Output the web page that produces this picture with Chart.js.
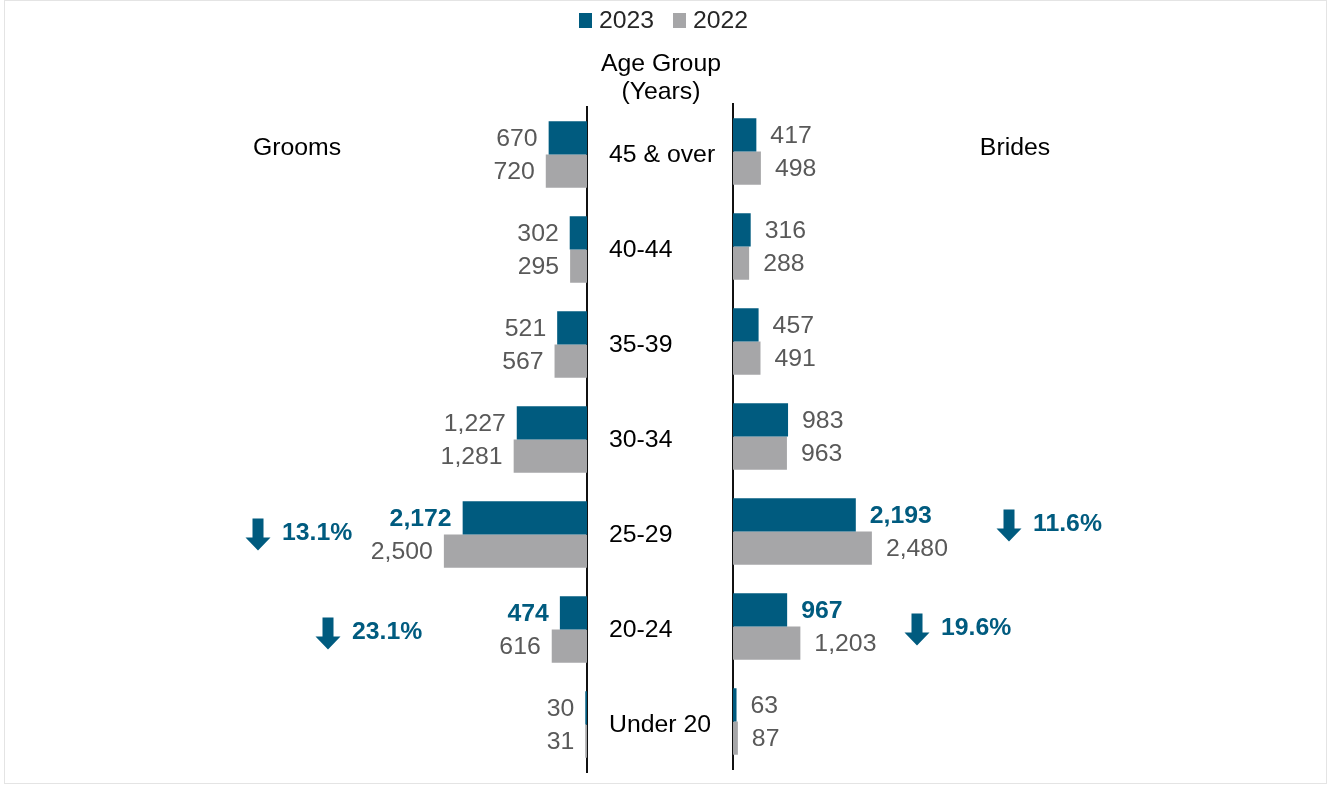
<!DOCTYPE html>
<html>
<head>
<meta charset="utf-8">
<script src="https://cdn.jsdelivr.net/npm/chart.js@4.4.0/dist/chart.umd.min.js"></script>
<style>
    html, body { margin: 0; padding: 0; background: #fff; }
    #wrap { position: relative; width: 1330px; height: 785px; overflow: hidden; }
    #frame { position: absolute; left: 4px; top: 0; width: 1323px; height: 784px; border: 1px solid #e4e4e4; box-sizing: border-box; }
    canvas { position: absolute; left: 0; top: 0; }
</style>
</head>
<body>
<div id="wrap">
    <div id="frame"></div>
    <canvas id="grooms" width="1330" height="785"></canvas>
    <canvas id="brides" width="1330" height="785"></canvas>
</div>
<script>
const ageGroups = ['45 & over', '40-44', '35-39', '30-34', '25-29', '20-24', 'Under 20']
const grooms2023 = [670, 302, 521, 1227, 2172, 474, 30]
const grooms2022 = [720, 295, 567, 1281, 2500, 616, 31]
const brides2023 = [417, 316, 457, 983, 2193, 967, 63]
const brides2022 = [498, 288, 491, 963, 2480, 1203, 87]
const groomsChange = [null, null, null, null, '13.1%', '23.1%', null]
const bridesChange = [null, null, null, null, '11.6%', '19.6%', null]

const BLUE = '#005b7f'
const GREY = '#a6a6a8'
const LABEL = '#595959'
const FONT = '"Liberation Sans", Arial, sans-serif'
const SIZE = '24.8px '

// where the arrow notes sit (layout only)
const groomsNotes = { x: [0, 0, 0, 0, 258, 328, 0], dy: [0, 0, 0, 0, -2, 2, 0] }
const bridesNotes = { x: [0, 0, 0, 0, 1009, 917, 0], dy: [0, 0, 0, 0, -8, 1, 0] }

function drawArrow(ctx, cx, cy) {
    const h = 32, headW = 25, shaftW = 11, headH = 13
    const top = cy - h / 2
    ctx.beginPath()
    ctx.moveTo(cx - shaftW / 2, top)
    ctx.lineTo(cx + shaftW / 2, top)
    ctx.lineTo(cx + shaftW / 2, top + h - headH)
    ctx.lineTo(cx + headW / 2, top + h - headH)
    ctx.lineTo(cx, top + h)
    ctx.lineTo(cx - headW / 2, top + h - headH)
    ctx.lineTo(cx - shaftW / 2, top + h - headH)
    ctx.closePath()
    ctx.fill()
}

const valueLabels = {
    id: 'valueLabels',
    afterDatasetsDraw(chart, args, opts) {
        const ctx = chart.ctx
        ctx.save()
        ctx.textBaseline = 'middle'
        chart.data.datasets.forEach((ds, di) => {
            chart.getDatasetMeta(di).data.forEach((bar, i) => {
                const bold = di === 0 && opts.changes[i]
                ctx.font = (bold ? 'bold ' : '') + SIZE + FONT
                ctx.fillStyle = bold ? BLUE : LABEL
                if (opts.side === 'left') {
                    ctx.textAlign = 'right'
                    ctx.fillText(ds.data[i].toLocaleString('en-US'), bar.x - 11, bar.y + 1)
                } else {
                    ctx.textAlign = 'left'
                    ctx.fillText(ds.data[i].toLocaleString('en-US'), bar.x + 14, bar.y + 1)
                }
            })
        })
        // change notes with arrows
        const yScale = chart.scales.y
        opts.changes.forEach((txt, i) => {
            if (!txt) return
            const cy = yScale.getPixelForValue(i) + opts.notes.dy[i]
            const ax = opts.notes.x[i]
            ctx.fillStyle = BLUE
            drawArrow(ctx, ax, cy + 2)
            ctx.font = 'bold ' + SIZE + FONT
            ctx.textAlign = 'left'
            ctx.fillText(txt, ax + 24, cy + 1)
        })
        // side title
        ctx.font = SIZE + FONT
        ctx.fillStyle = '#000'
        ctx.textAlign = 'center'
        ctx.fillText(opts.title, opts.titleX, 148)
        ctx.restore()
    }
}

const centerText = {
    id: 'centerText',
    afterDraw(chart) {
        const ctx = chart.ctx
        const yScale = chart.scales.y
        ctx.save()
        ctx.font = SIZE + FONT
        ctx.textBaseline = 'middle'
        ctx.fillStyle = '#000'
        ctx.textAlign = 'left'
        chart.data.labels.forEach((lab, i) => {
            ctx.fillText(lab, 609, yScale.getPixelForValue(i) + 1)
        })
        ctx.textAlign = 'center'
        ctx.fillText('Age Group', 661, 64)
        ctx.fillText('(Years)', 661, 92)
        // legend
        let x = 579
        chart.data.datasets.forEach(ds => {
            ctx.fillStyle = ds.backgroundColor
            ctx.fillRect(x, 13, 13, 15)
            ctx.fillStyle = '#262626'
            ctx.textAlign = 'left'
            ctx.fillText(ds.label, x + 20, 21)
            x += 94
        })
        ctx.restore()
    }
}

function makeChart(id, side, d2023, d2022, changes, notes, title, titleX) {
    const left = side === 'left'
    return new Chart(document.getElementById(id), {
        type: 'bar',
        data: {
            labels: ageGroups,
            datasets: [
                { label: '2023', data: d2023, backgroundColor: BLUE, categoryPercentage: 0.7, barPercentage: 1 },
                { label: '2022', data: d2022, backgroundColor: GREY, categoryPercentage: 0.7, barPercentage: 1 }
            ]
        },
        options: {
            indexAxis: 'y',
            responsive: false,
            animation: false,
            events: [],
            layout: {
                padding: left
                    ? { left: 358, right: 1330 - 587, top: 107, bottom: 13 }
                    : { left: 733, right: 1330 - 957, top: 104, bottom: 16 }
            },
            plugins: {
                legend: { display: false },
                tooltip: { enabled: false },
                valueLabels: { side: side, changes: changes, notes: notes, title: title, titleX: titleX }
            },
            scales: {
                x: { reverse: left, min: 0, max: 4000, display: false },
                y: {
                    position: left ? 'right' : 'left',
                    grid: { display: false, drawTicks: false },
                    ticks: { display: false },
                    border: { display: true, color: '#111', width: 2 },
                    afterFit: s => { s.width = 0 }
                }
            }
        },
        plugins: left ? [valueLabels, centerText] : [valueLabels]
    })
}

makeChart('grooms', 'left', grooms2023, grooms2022, groomsChange, groomsNotes, 'Grooms', 297)
makeChart('brides', 'right', brides2023, brides2022, bridesChange, bridesNotes, 'Brides', 1015)
</script>
</body>
</html>
